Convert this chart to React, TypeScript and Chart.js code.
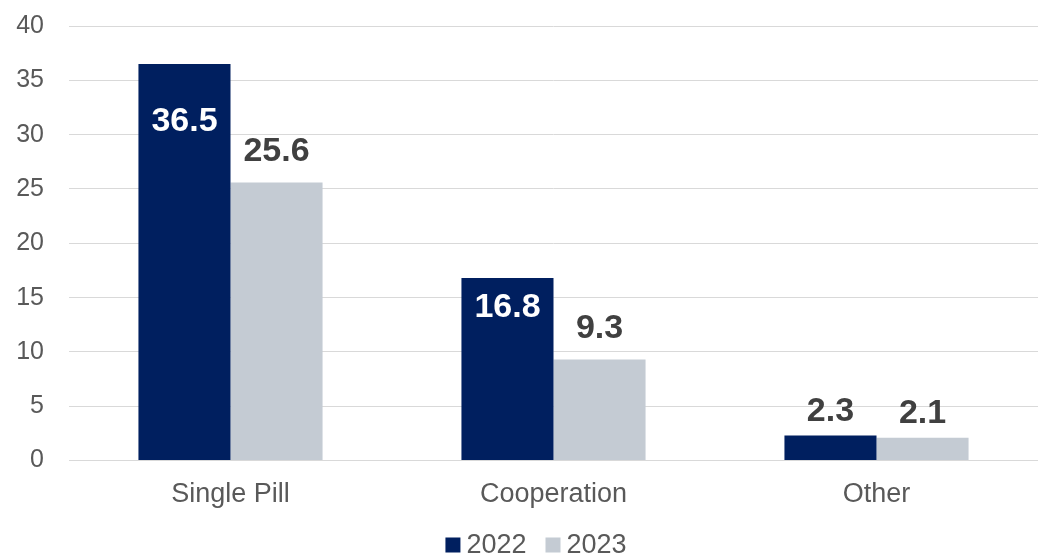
import React, { useEffect, useRef } from "react";
import { Chart, registerables } from "chart.js";

Chart.register(...registerables);

const categories = ["Single Pill", "Cooperation", "Other"];
const series2022 = [36.5, 16.8, 2.3];
const series2023 = [25.6, 9.3, 2.1];
const seriesNames = ["2022", "2023"];
const yTicks = [0, 5, 10, 15, 20, 25, 30, 35, 40];

const FONT = "'Liberation Sans', Arial, sans-serif";

const labelPlugin = {
  id: "valueLabels",
  afterDatasetsDraw(chart: any) {
    const ctx = chart.ctx;
    ctx.save();
    ctx.font = `bold 34px ${FONT}`;
    ctx.textAlign = "center";
    ctx.textBaseline = "middle";
    chart.data.datasets.forEach((ds: any, di: number) => {
      const meta = chart.getDatasetMeta(di);
      meta.data.forEach((bar: any, i: number) => {
        const v = ds.data[i];
        const txt = v.toFixed(1);
        let y: number;
        if (di === 0 && v > 10) {
          ctx.fillStyle = "#ffffff";
          y = bar.y + (v > 30 ? 58 : 30);
        } else {
          ctx.fillStyle = "#404040";
          y = bar.y - (v > 5 ? 31 : 24);
        }
        ctx.fillText(txt, bar.x, y);
      });
    });
    ctx.restore();
  },
};

const legendPlugin = {
  id: "customLegend",
  afterDraw(chart: any) {
    const ctx = chart.ctx;
    ctx.save();
    ctx.font = `27px ${FONT}`;
    ctx.textBaseline = "middle";
    ctx.textAlign = "left";
    const box = 15;
    const gapText = 6;
    const gapItem = 19;
    const items = chart.data.datasets.map((ds: any) => ({
      label: ds.label,
      color: ds.backgroundColor,
      w: box + gapText + ctx.measureText(ds.label).width,
    }));
    const total = items.reduce((s: number, it: any) => s + it.w, 0) + gapItem * (items.length - 1);
    let x = 536 - total / 2;
    const cy = 545;
    items.forEach((it: any) => {
      ctx.fillStyle = it.color;
      ctx.fillRect(x, cy - box / 2, box, box);
      ctx.fillStyle = "#595959";
      ctx.fillText(it.label, x + box + gapText, cy + 1);
      x += it.w + gapItem;
    });
    ctx.restore();
  },
};

export default function App() {
  const ref = useRef<HTMLCanvasElement>(null);
  useEffect(() => {
    document.body.style.margin = "0";
    const chart = new Chart(ref.current!, {
      type: "bar",
      data: {
        labels: categories,
        datasets: [
          { label: seriesNames[0], data: series2022, backgroundColor: "#001F5F" },
          { label: seriesNames[1], data: series2023, backgroundColor: "#C4CBD3" },
        ],
      },
      options: {
        animation: false,
        responsive: false,
        maintainAspectRatio: false,
        layout: { padding: { top: 26, right: 0, left: 0, bottom: 27 } },
        datasets: { bar: { categoryPercentage: 0.57, barPercentage: 1 } },
        scales: {
          x: {
            grid: { display: false, drawTicks: false },
            border: { display: true, color: "#d9d9d9", width: 1 },
            ticks: { color: "#595959", font: { family: FONT, size: 27, lineHeight: 1.2 }, padding: 18 },
            afterFit(scale: any) {
              scale.paddingLeft = 0;
              scale.paddingRight = 0;
              scale.paddingTop = 0;
            },
          },
          y: {
            min: 0,
            max: 40,
            afterBuildTicks(scale: any) {
              scale.ticks = yTicks.map((v) => ({ value: v }));
            },
            afterFit(scale: any) {
              scale.width = 69;
              scale.paddingTop = 0;
              scale.paddingBottom = 0;
            },
            grid: { color: "#d9d9d9", drawTicks: false, lineWidth: 1 },
            border: { display: false },
            ticks: { color: "#595959", font: { family: FONT, size: 25, lineHeight: 1 }, padding: 25 },
          },
        },
        plugins: {
          legend: { display: false },
          tooltip: { enabled: false },
        },
      },
      plugins: [labelPlugin, legendPlugin],
    });
    return () => chart.destroy();
  }, []);
  return (
    <div style={{ position: "absolute", left: 0, top: 0, width: 1038, height: 556 }}>
      <canvas ref={ref} width={1038} height={556} />
    </div>
  );
}
